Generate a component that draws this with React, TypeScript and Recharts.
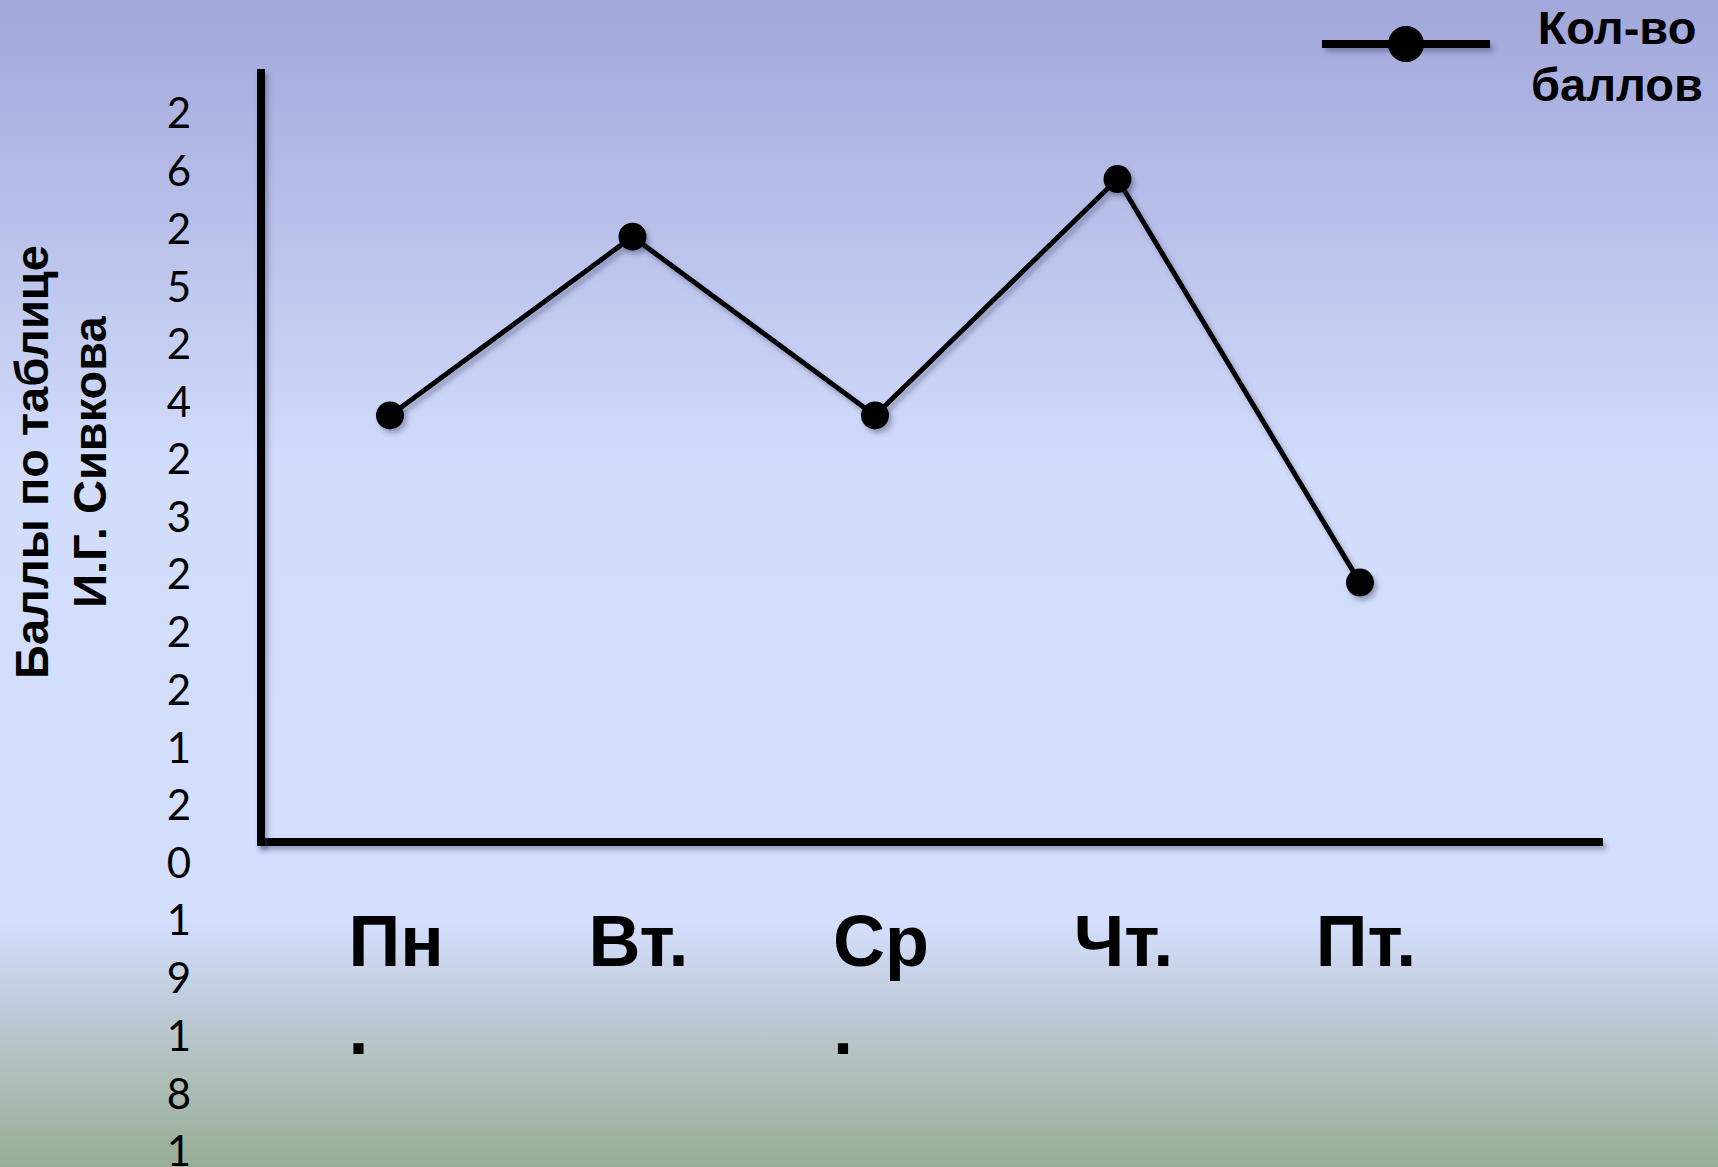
import React from "react";
import { LineChart, Line, XAxis, YAxis, Legend } from "recharts";

// values
const days = ["Пн.", "Вт.", "Ср.", "Чт.", "Пт."];
const scores = [23.7, 25.25, 23.7, 25.75, 22.25];
const yTicks = [17, 18, 19, 20, 21, 22, 23, 24, 25, 26];
const yDomain = [20, 26.67];
const yTitleLines = ["Баллы по таблице", "И.Г. Сивкова"];
const seriesName = "Кол-во баллов";

const data = days.map((day, i) => ({ day, score: scores[i] }));

const W = 1718;
const H = 1167;
const PLOT_TOP = 73;
const PLOT_BOTTOM = 842;
const PLOT_LEFT = 261;
const PLOT_RIGHT = 1599;

const BOLD_FONT = "'Liberation Sans', Arial, sans-serif";
const X_FONT_SIZE = 72;
const Y_FONT_SIZE = 42;

const ctx = typeof document !== "undefined" ? document.createElement("canvas").getContext("2d") : null;

// break a label into lines the way the slide's narrow text boxes do
function wrapChars(text: string, font: string, maxWidth: number) {
  const measure = (s: string) => {
    if (!ctx) return s.length * 30;
    ctx.font = font;
    return ctx.measureText(s).width;
  };
  const lines: string[] = [];
  let cur = "";
  for (const ch of text) {
    const next = cur + ch;
    if (cur && measure(next) > maxWidth) {
      lines.push(cur);
      cur = ch;
    } else {
      cur = next;
    }
  }
  if (cur) lines.push(cur);
  return lines.map((t) => ({ text: t, width: measure(t) }));
}

function XTick({ x, payload }: any) {
  const lines = wrapChars(String(payload.value), `bold ${X_FONT_SIZE}px 'Liberation Sans'`, 112);
  const block = Math.max(...lines.map((l) => l.width));
  const left = x + 6 - block / 2;
  return (
    <g>
      {lines.map((l, i) => (
        <text key={i} x={left} y={PLOT_BOTTOM + 124 + i * 88} textAnchor="start"
          fontFamily={BOLD_FONT} fontWeight={700} fontSize={X_FONT_SIZE} fill="#000">
          {l.text}
        </text>
      ))}
    </g>
  );
}

function YTick({ y, payload }: any) {
  const lines = wrapChars(String(payload.value), `${Y_FONT_SIZE}px Lato`, 30);
  const first = y - 8 - ((lines.length - 1) * 58) / 2 + 15;
  return (
    <g>
      {lines.map((l, i) => (
        <text key={i} x={179} y={first + i * 58} textAnchor="middle"
          fontFamily="Lato, 'Open Sans', sans-serif" fontSize={Y_FONT_SIZE} fill="#000">
          {l.text}
        </text>
      ))}
    </g>
  );
}

function YTitle() {
  const cy = 462;
  return (
    <g>
      {yTitleLines.map((t, i) => {
        const bx = 48 + i * 58;
        return (
          <text key={i} x={bx} y={cy} transform={`rotate(-90, ${bx}, ${cy})`} textAnchor="middle"
            fontFamily={BOLD_FONT} fontWeight={700} fontSize={47} fill="#000">
            {t}
          </text>
        );
      })}
    </g>
  );
}

function LegendBox({ payload }: any) {
  const name = payload?.[0]?.value ?? seriesName;
  const lines = String(name).split(" ");
  return (
    <svg width={418} height={130} style={{ display: "block", overflow: "visible" }}>
      <line x1={22} y1={44} x2={190} y2={44} stroke="#000" strokeWidth={8} filter="url(#sh)" />
      <circle cx={106} cy={44} r={18} fill="#000" />
      {lines.map((l, i) => (
        <text key={i} x={317} y={44 + i * 57} textAnchor="middle" fontFamily={BOLD_FONT}
          fontWeight={700} fontSize={47} fill="#000">
          {l}
        </text>
      ))}
    </svg>
  );
}

export default function App() {
  const axisLine = { stroke: "#000", strokeWidth: 8, strokeLinecap: "square", filter: "url(#sh)" };
  return (
    <div
      style={{
        position: "absolute",
        left: 0,
        top: 0,
        width: W,
        height: H,
        overflow: "hidden",
        background:
          "linear-gradient(to bottom, #a1a7da 0%, #d2dcfb 40%, #d4defd 79%, #c0ccdb 86%, #adbdb5 93%, #97ad95 100%)",
      }}
    >
      <svg width={0} height={0} style={{ position: "absolute" }}>
        <defs>
          <filter id="sh" filterUnits="userSpaceOnUse" x={0} y={0} width={W} height={H}>
            <feDropShadow dx={3} dy={4} stdDeviation={2.5} floodColor="#3a3f60" floodOpacity={0.4} />
          </filter>
        </defs>
      </svg>
      <LineChart
        width={W}
        height={H}
        data={data}
        margin={{ top: PLOT_TOP, right: W - PLOT_RIGHT, left: 0, bottom: 0 }}
      >
        <XAxis
          dataKey="day"
          height={H - PLOT_BOTTOM}
          padding={{ left: 390 - PLOT_LEFT, right: PLOT_RIGHT - 1360 }}
          axisLine={axisLine}
          tickLine={false}
          interval={0}
          tick={<XTick />}
        />
        <YAxis
          width={PLOT_LEFT}
          domain={yDomain}
          allowDataOverflow
          ticks={yTicks}
          interval={0}
          axisLine={axisLine}
          tickLine={false}
          tick={<YTick />}
          label={{ content: () => <YTitle /> }}
        />
        <Legend
          layout="vertical"
          align="center"
          verticalAlign="middle"
          content={<LegendBox />}
          wrapperStyle={{ position: "absolute", left: 1300, top: 0, width: 418, height: 130 }}
        />
        <Line
          type="linear"
          dataKey="score"
          name={seriesName}
          stroke="#000"
          strokeWidth={5}
          filter="url(#sh)"
          dot={{ r: 14, fill: "#000", stroke: "#000", strokeWidth: 0 }}
          activeDot={false}
          isAnimationActive={false}
        />
      </LineChart>
    </div>
  );
}
